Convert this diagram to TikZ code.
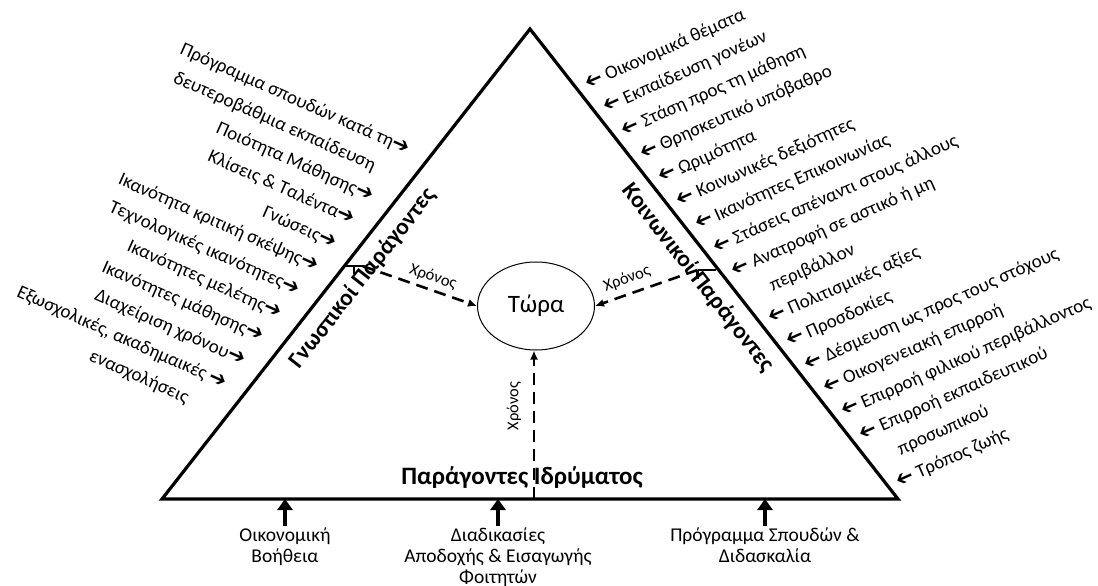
\documentclass[tikz,border=0pt]{standalone}
\usepackage{fontspec}
\setmainfont{Carlito}
\newfontfamily\symfont{DejaVu Sans}
\usetikzlibrary{arrows.meta,calc,shapes.geometric}

% small heavy arrows used in the factor lists
\newcommand{\rarr}{{\symfont\bfseries\fontsize{21}{21}\selectfont\char"2794}}
\newcommand{\larr}{\reflectbox{\rarr}}
\newcommand{\noarr}{\phantom{\rarr}}

\tikzset{
  frame/.style={line width=3.2pt, line join=miter},
  listfont/.style={font=\fontsize{19}{21}\selectfont},
  leftitem/.style={listfont, anchor=base east, rotate=-24, inner sep=0pt},
  rightitem/.style={listfont, anchor=base west, rotate=24, inner sep=0pt},
  sidetitle/.style={font=\bfseries\fontsize{23.5}{26}\selectfont, inner sep=0pt},
  basetitle/.style={font=\bfseries\fontsize{25}{27}\selectfont, inner sep=0pt},
  timeline/.style={line width=2.6pt, dash pattern=on 12pt off 7pt,
    -{Latex[length=9pt,width=8pt]}},
  tickline/.style={line width=2.4pt},
  timelabel/.style={font=\fontsize{16.5}{18}\selectfont, inner sep=0pt},
  nowcircle/.style={ellipse, draw, line width=1pt, minimum width=117pt,
    minimum height=88pt, inner sep=0pt, font=\fontsize{25}{28}\selectfont},
  feed/.style={line width=4pt, -{Triangle[length=11pt,width=15pt]}},
  feedlabel/.style={align=center, anchor=north, inner sep=2pt,
    font=\fontsize{19.5}{21}\selectfont}
}

\begin{document}
\begin{tikzpicture}[x=1pt,y=-1pt]
\useasboundingbox (0,0) rectangle (1098,586);

% the triangle
\coordinate (A) at (530,29);
\coordinate (BL) at (162,499);
\coordinate (BR) at (898,499);
\draw[frame] (BL) -- (A) -- (BR) -- cycle;

% side titles
\node[sidetitle, rotate=51.9] (cog) at (363,278) {Γνωστικοί Παράγοντες};
\node[sidetitle, rotate=-51.9] (soc) at (698,278) {Κοινωνικοί Παράγοντες};
\node[basetitle] (inst) at (522,478) {Παράγοντες Ιδρύματος};

% the present
\node[nowcircle] (now) at (536,306) {Τώρα};

% cognitive factors -> now
\coordinate (lt) at (344.5,266);
\draw[tickline] (lt) -- ++(18,0) coordinate (lt2);
\draw[tickline] (354,266) -- ++(0,8);
\draw[timeline] (lt2) -- (now.west);
\node[timelabel, rotate=-19] (tl) at (433,277) {Χρόνος};

% social factors -> now
\coordinate (rt) at (715.6,270);
\draw[tickline] (rt) -- ++(-18,0) coordinate (rt2);
\draw[tickline] (rt2) -- ++(0,9);
\draw[timeline] (rt2) -- (now.east);
\node[timelabel, rotate=21] (tr) at (627,279) {Χρόνος};

% institutional factors -> now
\coordinate (bt) at (534,499);
\draw[timeline] (bt) -- (bt |- now.south);
\node[timelabel, rotate=90] (tb) at (514,406) {Χρόνος};

% cognitive factor list
\foreach \txt [count=\i from 0] in {
  {Πρόγραμμα σπουδών κατά τη\rarr},
  {δευτεροβάθμια εκπαίδευση\noarr},
  {Ποιότητα Μάθησης\rarr},
  {Κλίσεις \& Ταλέντα\rarr},
  {Γνώσεις\rarr},
  {Ικανότητα κριτική σκέψης\rarr},
  {Τεχνολογικές ικανότητες\rarr},
  {Ικανότητες μελέτης\rarr},
  {Ικανότητες μάθησης\rarr},
  {Διαχείριση χρόνου\rarr},
  {Εξωσχολικές, ακαδημαικές \rarr},
  {ενασχολήσεις\phantom{ \rarr}}}
  \node[leftitem] (l\i) at ($(407,155)+\i*(-18.3,23.4)$) {\txt};

% social factor list
\foreach \txt [count=\i from 0] in {
  {\larr\ Οικονομικά θέματα},
  {\larr\ Εκπαίδευση γονέων},
  {\larr\ Στάση προς τη μάθηση},
  {\larr\ Θρησκευτικό υπόβαθρο},
  {\larr\ Ωριμότητα},
  {\larr\ Κοινωνικές δεξιότητες},
  {\larr\ Ικανότητες Επικοινωνίας},
  {\larr\ Στάσεις απέναντι στους άλλους},
  {\larr\ Ανατροφή σε αστικό ή μη},
  {\noarr\ περιβάλλον},
  {\larr\ Πολιτισμικές αξίες},
  {\larr\ Προσδοκίες},
  {\larr\ Δέσμευση ως προς τους στόχους},
  {\larr\ Οικογενειακή επιρροή},
  {\larr\ Επιρροή φιλικού περιβάλλοντος},
  {\larr\ Επιρροή εκπαιδευτικού},
  {\noarr\ προσωπικού},
  {\larr\ Τρόπος ζωής}}
  \node[rightitem] (r\i) at ($(588,89.6)+\i*(18.3,23.4)$) {\txt};

% institutional inputs
\node[feedlabel] (fin) at (285,526) {Οικονομική\\Βοήθεια};
\node[feedlabel] (adm) at (498,526) {Διαδικασίες\\Αποδοχής \& Εισαγωγής\\Φοιτητών};
\node[feedlabel] (cur) at (765,526) {Πρόγραμμα Σπουδών \&\\Διδασκαλία};
\foreach \n in {fin,adm,cur}
  \draw[feed] (\n.north) -- (\n.north |- BL);
\end{tikzpicture}
\end{document}
